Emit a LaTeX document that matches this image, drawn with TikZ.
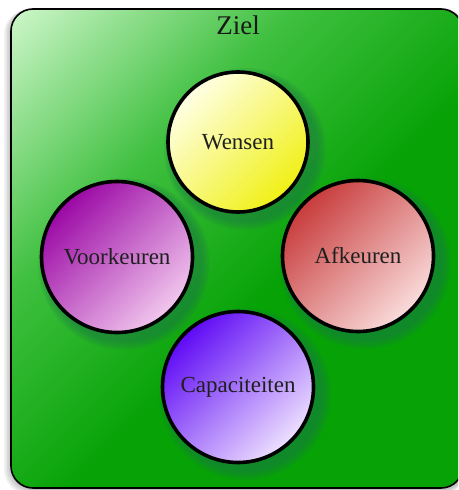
\documentclass[tikz,border=0pt]{standalone}
\usepackage{fontspec}
\setmainfont{Liberation Serif}
\usetikzlibrary{shapes.geometric}
\definecolor{gl}{HTML}{D2F8CE}
\definecolor{gm}{HTML}{40C040}
\definecolor{gd}{HTML}{06A206}
\definecolor{shcol}{HTML}{1E7A46}
\pgfdeclarehorizontalshading{bgshade}{100bp}{color(0bp)=(gl); color(14bp)=(gl); color(36bp)=(gm); color(56bp)=(gd); color(100bp)=(gd)}
\tikzset{
  bubble/.style={circle, draw=black, line width=3.6pt, minimum size=151pt, inner sep=0pt,
    font=\fontsize{23}{26}\selectfont, text=black!88},
  title/.style={font=\fontsize{27}{30}\selectfont, text=black!90, inner sep=0pt}
}
\newcommand{\softshadow}[2]{%
  \foreach \k in {0,...,6}{
    \fill[shcol, opacity=0.11] (#1) ++(7pt,-7pt) circle[radius=#2+9pt-1.5pt*\k];
  }}
\begin{document}
\begin{tikzpicture}[x=1pt,y=-1pt]
\useasboundingbox (0,0) rectangle (458,490);
\fill[white] (0,0) rectangle (458,490);
\begin{scope}
\clip (0,0) rectangle (458,490);
% outer box shadow
\foreach \k in {0,...,4}{
  \fill[black, opacity=0.05, rounded corners=24pt] (10-\k*1.5,8+\k*0.5) rectangle (466,490+\k);
}
\path[shading=bgshade, shading angle=-45, rounded corners=22pt] (11,9) rectangle (463,488);
\draw[black, line width=1.6pt, rounded corners=22pt] (11,9) rectangle (463,488);
\end{scope}
\node[title] (ziel) at (238,25) {Ziel};
% shadows
\softshadow{238,142}{72}
\softshadow{117,257}{77}
\softshadow{358,256}{77}
\softshadow{238,387}{77}
\node[bubble, minimum size=140pt, top color=yellow!10!white, middle color={rgb,255:red,240;green,248;blue,45}, bottom color={rgb,255:red,240;green,240;blue,20}, shading angle=45] (wensen) at (238,142) {Wensen};
\node[bubble, top color={rgb,255:red,155;green,8;blue,165}, middle color={rgb,255:red,170;green,40;blue,175}, bottom color={rgb,255:red,242;green,200;blue,238}, shading angle=45] (voork) at (117,257) {Voorkeuren};
\node[bubble, top color={rgb,255:red,200;green,60;blue,60}, middle color={rgb,255:red,210;green,95;blue,95}, bottom color={rgb,255:red,250;green,220;blue,220}, shading angle=45] (afk) at (358,256) {Afkeuren};
\node[bubble, top color={rgb,255:red,95;green,10;blue,245}, middle color={rgb,255:red,125;green,65;blue,245}, bottom color={rgb,255:red,238;green,225;blue,255}, shading angle=45] (capa) at (238,387) {Capaciteiten};
\end{tikzpicture}
\end{document}
